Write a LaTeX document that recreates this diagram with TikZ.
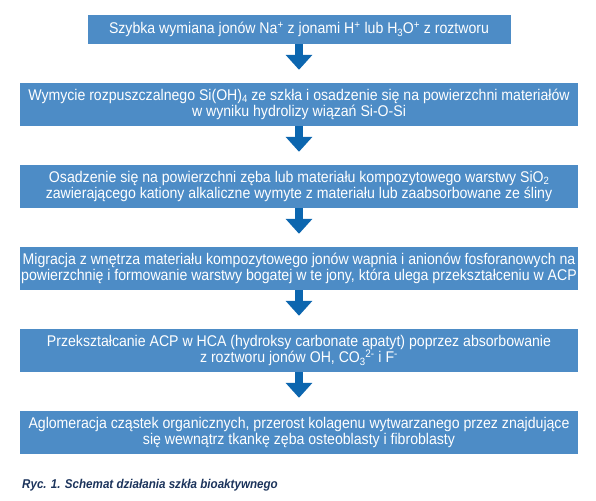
\documentclass[tikz,border=0pt]{standalone}
\usepackage{fontspec}
\setmainfont[FakeStretch=0.91]{Liberation Sans}
\usetikzlibrary{arrows.meta}
\definecolor{boxblue}{RGB}{77,140,198}
\definecolor{arrowblue}{RGB}{12,102,175}
\definecolor{capblue}{RGB}{28,52,92}
\newcommand{\lowidx}[1]{\raisebox{-0.3ex}{\fontsize{10.5}{10.5}\selectfont #1}}

\begin{document}
\begin{tikzpicture}[x=1pt,y=-1pt,
	stage/.style={fill=boxblue,text=white,align=center,inner sep=0pt,minimum width=558pt,minimum height=43pt,font=\fontsize{15.5}{16.5}\selectfont},
	flow/.style={draw=arrowblue,line width=8pt,-{Triangle[width=26pt,length=15pt]},shorten >=13pt}]

	\useasboundingbox (0,0) rectangle (596,500);

	\node[stage,minimum width=423pt,minimum height=29pt] (s1) at (299,29.5) {Szybka wymiana jonów Na\textsuperscript{+} z jonami H\textsuperscript{+} lub H\lowidx{3}O\textsuperscript{+} z roztworu};
	\node[stage] (s2) at (299,104.5) {Wymycie rozpuszczalnego Si(OH)\lowidx{4} ze szkła i osadzenie się na powierzchni materiałów\\ w wyniku hydrolizy wiązań Si-O-Si};
	\node[stage] (s3) at (299,186.5) {Osadzenie się na powierzchni zęba lub materiału kompozytowego warstwy SiO\lowidx{2}\\ zawierającego kationy alkaliczne wymyte z materiału lub zaabsorbowane ze śliny};
	\node[stage] (s4) at (299,268.5) {Migracja z wnętrza materiału kompozytowego jonów wapnia i anionów fosforanowych na\\ powierzchnię i formowanie warstwy bogatej w te jony, która ulega przekształceniu w ACP};
	\node[stage] (s5) at (299,350.5) {Przekształcanie ACP w HCA (hydroksy carbonate apatyt) poprzez absorbowanie\\ z roztworu jonów OH, CO\lowidx{3}\textsuperscript{2-} i F\textsuperscript{-}};
	\node[stage] (s6) at (299,432.5) {Aglomeracja cząstek organicznych, przerost kolagenu wytwarzanego przez znajdujące\\ się wewnątrz tkankę zęba osteoblasty i fibroblasty};

	\draw[flow] (s1.south) -- (s2.north);
	\draw[flow] (s2.south) -- (s3.north);
	\draw[flow] (s3.south) -- (s4.north);
	\draw[flow] (s4.south) -- (s5.north);
	\draw[flow] (s5.south) -- (s6.north);

	\node[anchor=base west,inner sep=0pt,text=capblue,font=\fontsize{12.75}{15}\selectfont\bfseries\itshape] (cap) at (22,488) {Ryc. 1. Schemat działania szkła bioaktywnego};

\end{tikzpicture}
\end{document}
